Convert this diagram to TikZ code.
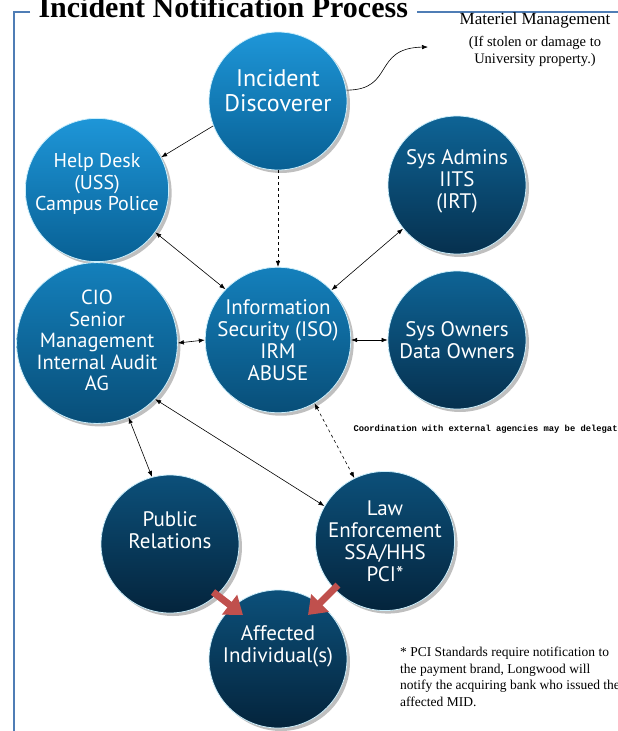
\documentclass[tikz,border=0pt]{standalone}
\usepackage{fontspec}
\setmainfont{Liberation Serif}
\setmonofont{Liberation Mono}
\newfontfamily\ballfont{PT Sans}
\usetikzlibrary{arrows.meta,shadows}
\definecolor{framecol}{HTML}{4F7DB5}
\definecolor{redarrow}{HTML}{C0504D}
\tikzset{
  ball/.style={circle, minimum size=138pt, inner sep=0pt, align=center, text=white,
    font=\ballfont\fontsize{21}{22}\selectfont, shading angle=45,
    draw=cyan!20, line width=0.8pt,
    drop shadow={shadow xshift=3pt, shadow yshift=-3pt, opacity=0.5}},
  lightball/.style={ball, top color={rgb,255:red,30;green,150;blue,216}, bottom color={rgb,255:red,8;green,96;blue,148}},
  midball/.style={ball, top color={rgb,255:red,20;green,128;blue,188}, bottom color={rgb,255:red,8;green,78;blue,120}},
  darkball/.style={ball, top color={rgb,255:red,14;green,100;blue,150}, bottom color={rgb,255:red,6;green,48;blue,78}},
  deepball/.style={ball, top color={rgb,255:red,12;green,80;blue,122}, bottom color={rgb,255:red,4;green,36;blue,60}},
  link/.style={-{Latex[length=6pt,width=4.5pt]}, line width=0.6pt},
  twolink/.style={{Latex[length=6pt,width=4.5pt]}-{Latex[length=6pt,width=4.5pt]}, line width=0.6pt},
  redlink/.style={-{Triangle[length=17pt,width=24pt]}, line width=7pt, redarrow},
  frame/.style={framecol, line width=1.2pt}
}
\begin{document}
\begin{tikzpicture}[x=1pt, y=-1pt]
  \useasboundingbox (0,0) rectangle (618,731);

  \node[anchor=base west, font=\bfseries\fontsize{30}{30}\selectfont] (title) at (35,17) {Incident Notification Process};
  \draw[frame] (30,12) -- (14,12) -- (14,731);
  \draw[frame] (417,12) -- (618,12);

  \node[lightball, font=\ballfont\fontsize{24}{25}\selectfont] (disc) at (278,101) {Incident\\Discoverer\\[-4pt]};
  \node[lightball, font=\ballfont\fontsize{20}{21.5}\selectfont] (help) at (97,190) {Help Desk\\(USS)\\Campus Police\\[-6pt]};
  \node[darkball] (admins) at (457,185) {Sys Admins\\IITS\\(IRT)\\[-10pt]};
  \node[midball, font=\ballfont\fontsize{20.5}{21.5}\selectfont] (cio) at (97,343) {CIO\\Senior\\Management\\Internal Audit\\AG\\[-16pt]};
  \node[midball] (iso) at (278,340) {Information\\Security (ISO)\\IRM\\ABUSE};
  \node[darkball] (owners) at (457,340) {Sys Owners\\Data Owners};
  \node[deepball] (pr) at (170,544) {Public\\Relations\\[6pt]};
  \node[deepball] (law) at (385,541) {Law\\Enforcement\\SSA/HHS\\PCI*};
  \node[deepball] (aff) at (278,659) {Affected\\Individual(s)\\[8pt]};

  \node[align=center, font=\fontsize{17}{20}\selectfont] (matl) at (535,20) {Materiel Management};
  \node[align=center, font=\fontsize{14.5}{17}\selectfont, below=0pt] (cause) at (535,33) {(If stolen or damage to\\University property.)};
  \coordinate (matend) at (428,47);

  \draw[link] (disc.9) .. controls (395,90) and (372,48) .. (matend);
  \draw[link] (disc.201) -- (help.27);
  \draw[link, dashed] (disc.south) -- (iso.north);
  \draw[twolink] (help.-36) -- (iso.136);
  \draw[twolink] (admins.219) -- (iso.43);
  \draw[twolink] (cio.east) -- (iso.west);
  \draw[twolink] (iso.east) -- (owners.west);
  \draw[twolink] (cio.-67) -- (pr.105);
  \draw[twolink] (cio.-44) -- (law.150);
  \draw[twolink, dashed] (iso.-60) -- (law.116);
  \draw[redlink] ([shift={(43,48)}]pr.center) -- ([shift={(-35,-44)}]aff.center);
  \draw[redlink] ([shift={(-47,44)}]law.center) -- ([shift={(30,-44)}]aff.center);

  \node[anchor=base west, font=\ttfamily\bfseries\fontsize{8.8}{9}\selectfont] (coord) at (350,431) {Coordination with external agencies may be delegated};
  \node[anchor=north west, align=left, inner sep=0pt, font=\fontsize{13.5}{16.5}\selectfont] (pci) at (400,647)
    {* PCI Standards require notification to\\the payment brand, Longwood will\\notify the acquiring bank who issued the\\affected MID.};
\end{tikzpicture}
\end{document}
